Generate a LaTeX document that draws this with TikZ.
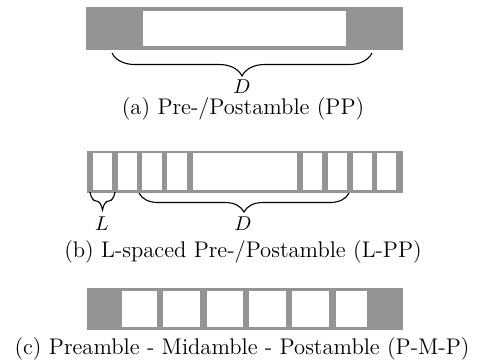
\documentclass[tikz,border=0pt]{standalone}
\usetikzlibrary{decorations.pathreplacing}
\definecolor{bargrey}{RGB}{148,148,148}
\tikzset{
  px/.style={x=0.5pt,y=-0.5pt},
  bar/.style={fill=bargrey,draw=none},
  cell/.style={fill=white,draw=none},
  ubrace/.style={decorate,decoration={brace,mirror,amplitude=#1},line width=0.55pt},
  lbl/.style={font=\fontsize{10}{12}\selectfont,inner sep=0pt},
  captext/.style={font=\fontsize{11.3}{13}\selectfont,inner sep=0pt},
}
\begin{document}
\begin{tikzpicture}[px]
\useasboundingbox (0,0) rectangle (481,360);

% (a) preamble / postamble
\fill[bar] (86,7) rectangle (403,50);
\fill[cell] (143,11) rectangle (346,46);
\coordinate (a1) at (112,53);
\coordinate (a2) at (372,53);
\draw[ubrace=11.5pt] (a1) -- (a2);
\node[lbl] (aD) at (242,86.5) {$D$};
\node[captext] (capA) at (243,108.5) {(a) Pre-/Postamble (PP)};

% (b) L-spaced preamble / postamble
\fill[bar] (87,151) rectangle (403,193);
\foreach \xa/\xb in {93/112,118/137,142/162,167/187,193/297,303/322,328/347,353/372,377/396}
  \fill[cell] (\xa,153) rectangle (\xb,190);
\coordinate (b1) at (90,192);
\coordinate (b2) at (115,192);
\coordinate (b3) at (139,193);
\coordinate (b4) at (349,193);
\draw[ubrace=9pt] (b1) -- (b2);
\draw[ubrace=9.5pt] (b3) -- (b4);
\node[lbl] (bL) at (102,224) {$L$};
\node[lbl] (bD) at (243,224) {$D$};
\node[captext] (capB) at (243,252) {(b) L-spaced Pre-/Postamble (L-PP)};

% (c) preamble / midamble / postamble
\fill[bar] (87,288) rectangle (403,330);
\foreach \xa/\xb in {122/157,163/200,207/243,249/286,292/329,336/367}
  \fill[cell] (\xa,291) rectangle (\xb,327);
\node[captext] (capC) at (242,349) {(c) Preamble - Midamble - Postamble (P-M-P)};
\end{tikzpicture}
\end{document}
